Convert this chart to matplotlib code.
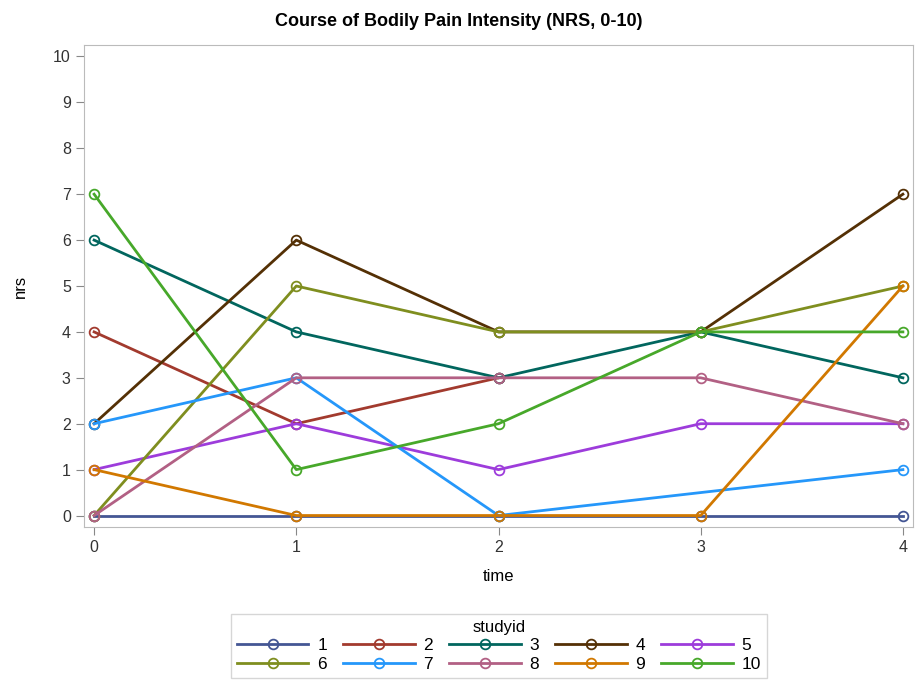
import numpy as np
import matplotlib.pyplot as plt

plt.rcParams['font.family'] = ['Liberation Sans', 'DejaVu Sans']

time = [0, 1, 2, 3, 4]
study_ids = ['1', '2', '3', '4', '5', '6', '7', '8', '9', '10']
nan = np.nan
nrs = {
    '1': [0, 0, 0, 0, 0],
    '2': [4, 2, 3, nan, nan],
    '3': [6, 4, 3, 4, 3],
    '4': [2, 6, 4, 4, 7],
    '5': [1, 2, 1, 2, 2],
    '6': [0, 5, 4, 4, 5],
    '7': [2, 3, 0, nan, 1],
    '8': [0, 3, 3, 3, 2],
    '9': [1, 0, 0, 0, 5],
    '10': [7, 1, 2, 4, 4],
}
colors = ['#445694', '#A23A2E', '#01665E', '#543005', '#9D3CDB',
          '#7F8E1F', '#2597FA', '#B26084', '#D17800', '#47A82A']

fig = plt.figure(figsize=(9.17, 6.85), dpi=100)
ax = fig.add_axes([84 / 917, 1 - 527 / 685, (913 - 84) / 917, (527 - 45) / 685])

handles = {}
for sid, c in zip(study_ids, colors):
    y = np.array(nrs[sid], dtype=float)
    t = np.array(time)
    ok = ~np.isnan(y)
    h, = ax.plot(t[ok], y[ok], color=c, lw=2, marker='o', ms=7,
                 mfc='none', mec=c, mew=1.3, label=sid)
    handles[sid] = h

ax.set_xlim(-0.05, 4.05)
ax.set_ylim(-0.25, 10.25)
ax.set_xticks(time)
ax.set_yticks(range(0, 11))
for s in ax.spines.values():
    s.set_color('#BBBBBB')
ax.tick_params(colors='#888888', labelcolor='#333333', labelsize=11.5, length=6)
ax.set_xlabel('time', fontsize=12, labelpad=10)
ax.set_ylabel('nrs', fontsize=12, labelpad=18)
fig.text(0.5, 1 - 22 / 685, 'Course of Bodily Pain Intensity (NRS, 0-10)',
         ha='center', va='center', fontsize=13, fontweight='bold')

order = ['1', '6', '2', '7', '3', '8', '4', '9', '5', '10']
leg = fig.legend([handles[k] for k in order], order, title='studyid', ncol=5,
                 loc='center', bbox_to_anchor=(499 / 917, 1 - 646 / 685),
                 frameon=True, fancybox=False, edgecolor='#CCCCCC',
                 fontsize=12.5, title_fontsize=12, handlelength=4.1,
                 columnspacing=0.95, handletextpad=0.5, borderpad=0.35,
                 labelspacing=0.2)
leg.get_frame().set_linewidth(1)

fig.savefig('out.png', dpi=100)
